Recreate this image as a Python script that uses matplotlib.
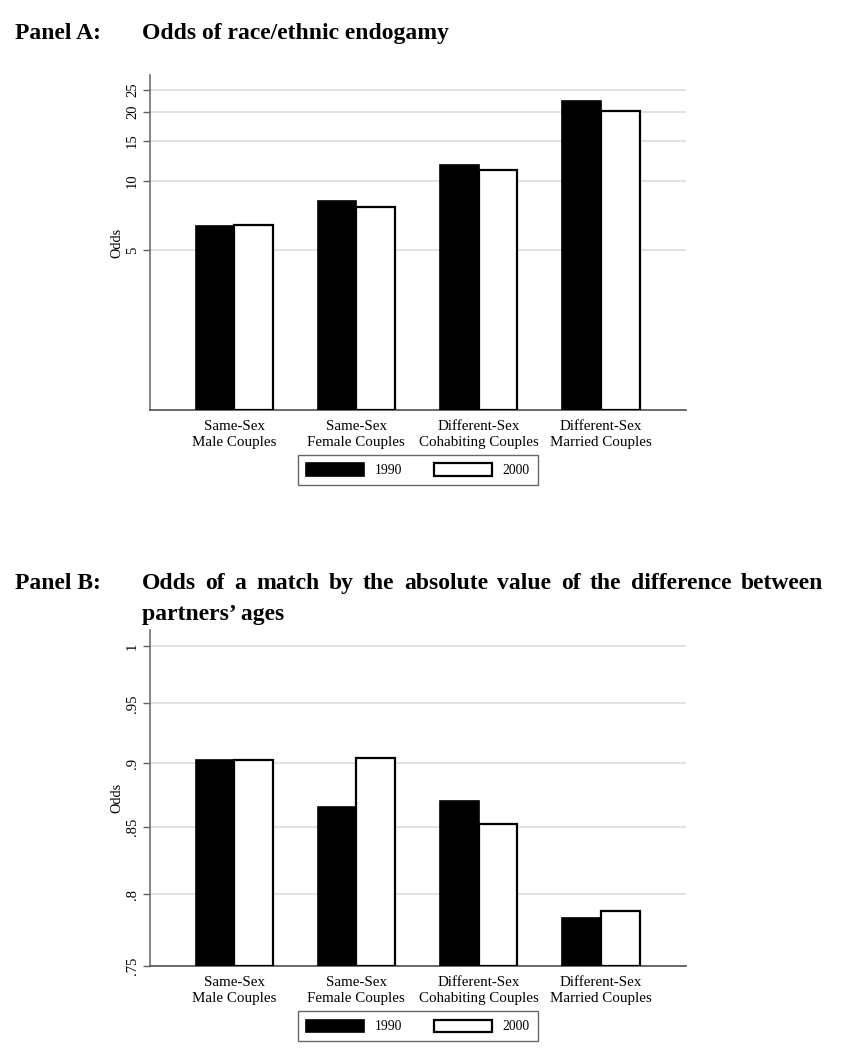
import matplotlib
matplotlib.use("Agg")
import matplotlib.pyplot as plt
import numpy as np
from matplotlib.patches import Patch
from matplotlib.ticker import FixedLocator, FixedFormatter, NullLocator

# data
categories = ["Same-Sex\nMale Couples", "Same-Sex\nFemale Couples",
              "Different-Sex\nCohabiting Couples", "Different-Sex\nMarried Couples"]
years = ["1990", "2000"]

race_1990 = [6.36, 8.18, 11.79, 22.4]
race_2000 = [6.45, 7.70, 11.17, 20.26]
race_ticks = [5, 10, 15, 20, 25]
race_ticklabels = ["5", "10", "15", "20", "25"]

age_1990 = [0.9027, 0.8654, 0.870, 0.7833]
age_2000 = [0.9024, 0.904, 0.8526, 0.7883]
age_ticks = [0.75, 0.8, 0.85, 0.9, 0.95, 1.0]
age_ticklabels = [".75", ".8", ".85", ".9", ".95", "1"]

W, H = 843, 1050
plt.rcParams['font.family'] = ['Liberation Serif', 'DejaVu Serif']

fig = plt.figure(figsize=(W / 100, H / 100), dpi=100)


def px_axes(left, right, top, bottom):
    return fig.add_axes([left / W, 1 - bottom / H, (right - left) / W, (bottom - top) / H])


def draw_panel(ax, v1990, v2000, ylo, yhi, ticks, ticklabels):
    x = np.arange(1, len(categories) + 1)
    w = 0.315
    ax.set_yscale('log')
    ax.bar(x - w / 2, np.array(v1990) - ylo, w, bottom=ylo, color='black',
           edgecolor='black', linewidth=1.2, zorder=3)
    ax.bar(x + w / 2, np.array(v2000) - ylo, w, bottom=ylo, color='white',
           edgecolor='black', linewidth=1.6, zorder=3)
    ax.set_ylim(ylo, yhi)
    ax.set_xlim(0.313, 4.695)
    ax.yaxis.set_major_locator(FixedLocator(ticks))
    ax.yaxis.set_major_formatter(FixedFormatter(ticklabels))
    ax.yaxis.set_minor_locator(NullLocator())
    ax.grid(True, axis='y', color='#dedede', linewidth=1.3)
    ax.set_axisbelow(True)
    ax.set_xticks(x)
    ax.set_xticklabels(categories, fontsize=10.8, linespacing=1.3)
    ax.tick_params(axis='x', length=0, pad=7)
    ax.tick_params(axis='y', length=5, width=1, color='#606060', labelsize=10.5,
                   labelrotation=90, pad=3)
    for lab in ax.get_yticklabels():
        lab.set_va('center')
    ax.set_ylabel('Odds', fontsize=10.2, labelpad=2)
    for s in ['top', 'right']:
        ax.spines[s].set_visible(False)
    ax.spines['left'].set_color('#707070')
    ax.spines['left'].set_linewidth(1.2)
    ax.spines['bottom'].set_color('#505050')
    ax.spines['bottom'].set_linewidth(1.2)
    handles = [Patch(facecolor='black', edgecolor='black', linewidth=1.2),
               Patch(facecolor='white', edgecolor='black', linewidth=1.6)]
    ax.legend(handles, years, loc='upper center', bbox_to_anchor=(0.5, -0.135),
              borderaxespad=0, ncol=2, fontsize=9.8, frameon=True, fancybox=False,
              edgecolor='#404040', handlelength=4.2, handleheight=1.0,
              handletextpad=0.8, columnspacing=2.4, borderpad=0.6)


axA = px_axes(150, 686, 75, 410)
draw_panel(axA, race_1990, race_2000, 1.0, 29.0, race_ticks, race_ticklabels)

axB = px_axes(150, 686, 630, 966)
draw_panel(axB, age_1990, age_2000, 0.75, 1.0148, age_ticks, age_ticklabels)

# panel titles
title_kw = dict(fontsize=17, fontweight='bold', va='baseline', ha='left')
fig.text(15 / W, 1 - 39 / H, "Panel A:", **title_kw)
fig.text(142 / W, 1 - 39 / H, "Odds of race/ethnic endogamy", **title_kw)
fig.text(15 / W, 1 - 589 / H, "Panel B:", **title_kw)


def justified(line, x0, x1, y):
    renderer = fig.canvas.get_renderer()
    words = line.split()
    texts = [fig.text(0, 1 - y / H, wd, **title_kw) for wd in words]
    widths = [t.get_window_extent(renderer).width for t in texts]
    gap = (x1 - x0 - sum(widths)) / (len(words) - 1)
    xpos = x0
    for t, wd in zip(texts, widths):
        t.set_x(xpos / W)
        xpos += wd + gap


justified("Odds of a match by the absolute value of the difference between", 142, 823, 589)
fig.text(142 / W, 1 - 620 / H, "partners\u2019 ages", **title_kw)

fig.savefig('out.png', dpi=100)
